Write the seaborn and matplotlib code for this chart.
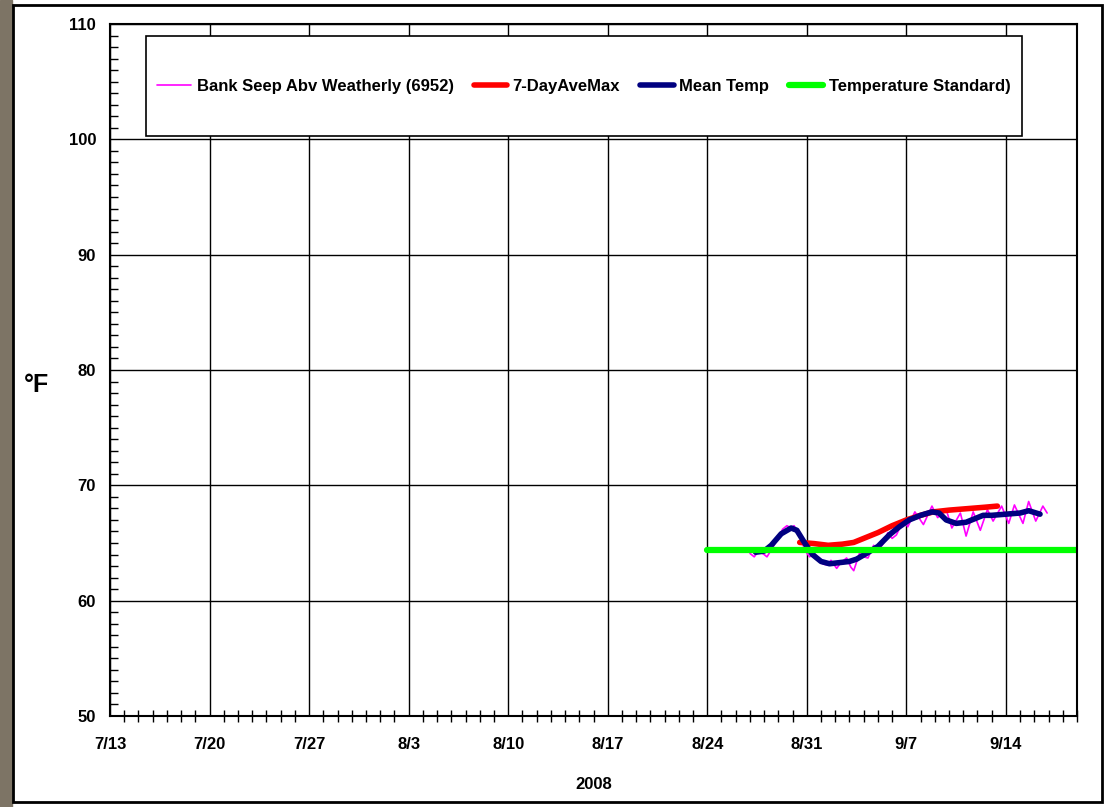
import numpy as np
import pandas as pd
import matplotlib
matplotlib.use('Agg')
import matplotlib.pyplot as plt
import matplotlib.dates as mdates
from matplotlib.patches import Rectangle
from matplotlib.ticker import MultipleLocator
import seaborn as sns

# data: days after 7/13/2008, temperature in F
start = pd.Timestamp('2008-07-13')

raw_day = [45.0, 45.3, 45.6, 46.0, 46.2, 46.6, 47.0, 47.3, 47.6, 47.9, 48.1, 48.5,
           48.9, 49.2, 49.5, 49.8, 50.1, 50.4, 50.7, 51.1, 51.4, 51.8, 52.1, 52.3,
           52.7, 53.0, 53.3, 53.7, 54.0, 54.4, 54.7, 55.0, 55.3, 55.8, 56.1, 56.6,
           57.2, 57.8, 58.2, 58.8, 59.2, 59.8, 60.2, 60.7, 61.2, 61.7, 62.1, 62.7,
           63.2, 63.6, 64.2, 64.6, 65.1, 65.6, 65.9]
raw_temp = [64.1, 63.8, 64.3, 64.0, 63.8, 64.6, 65.5, 66.2, 66.5, 66.3, 66.5, 65.6,
            64.3, 63.8, 64.2, 63.6, 63.2, 63.1, 63.5, 62.8, 63.3, 63.7, 62.9, 62.6,
            64.1, 63.8, 63.7, 64.8, 64.3, 65.0, 65.9, 65.4, 65.7, 67.0, 66.4, 67.7,
            66.6, 68.2, 67.2, 67.9, 66.3, 67.6, 65.6, 67.7, 66.1, 67.9, 66.9, 68.2,
            66.7, 68.3, 66.7, 68.6, 66.9, 68.2, 67.6]

max7_day = [48.5, 49.5, 50.5, 51.5, 52.3, 53.0, 54.0, 55.0, 56.0, 57.0, 57.9,
            59.0, 60.5, 61.5, 62.4]
max7_temp = [65.05, 64.95, 64.8, 64.9, 65.05, 65.4, 65.9, 66.5, 67.0, 67.4, 67.7,
             67.85, 68.0, 68.1, 68.2]

mean_day = [45.4, 46.0, 46.5, 47.2, 47.9, 48.3, 48.8, 49.4, 50.0, 50.6, 51.3, 52.0,
            52.5, 53.2, 54.0, 54.8, 55.5, 56.2, 57.0, 57.8, 58.3, 58.8, 59.5, 60.2,
            60.8, 61.4, 62.0, 63.0, 64.0, 64.6, 65.4]
mean_temp = [64.2, 64.3, 64.8, 65.8, 66.3, 66.1, 65.1, 64.0, 63.4, 63.2, 63.3, 63.4,
             63.6, 64.1, 64.7, 65.7, 66.4, 67.0, 67.4, 67.7, 67.6, 67.0, 66.7, 66.8,
             67.1, 67.4, 67.4, 67.5, 67.6, 67.8, 67.5]

std_day = [42, 68]
std_temp = [64.4, 64.4]

labels = ['Bank Seep Abv Weatherly (6952)', '7-DayAveMax', 'Mean Temp',
          'Temperature Standard)']
tick_dates = ['7/13', '7/20', '7/27', '8/3', '8/10', '8/17', '8/24', '8/31', '9/7', '9/14']


def to_dates(days):
    return start + pd.to_timedelta(days, unit='D')


sns.set_style('white')
plt.rcParams['font.family'] = ['Liberation Sans', 'DejaVu Sans']
plt.rcParams['font.weight'] = 'bold'
plt.rcParams['text.color'] = 'black'
plt.rcParams['axes.labelcolor'] = 'black'
plt.rcParams['xtick.color'] = 'black'
plt.rcParams['ytick.color'] = 'black'

fig = plt.figure(figsize=(11.1, 8.07), dpi=100)
ax = fig.add_axes([0.0991, 0.11276, 0.87117, 0.8575])

sns.lineplot(x=to_dates(raw_day), y=raw_temp, color='#FF00FF', lw=1.2, ax=ax)
sns.lineplot(x=to_dates(max7_day), y=max7_temp, color='#FF0000', lw=4, ax=ax,
             solid_joinstyle='round')
sns.lineplot(x=to_dates(mean_day), y=mean_temp, color='#000080', lw=4, ax=ax,
             solid_joinstyle='round')
sns.lineplot(x=to_dates(std_day), y=std_temp, color='#00FF00', lw=4.5, ax=ax)

ax.set_xlim(start, start + pd.Timedelta(days=68))
ax.set_ylim(50, 110)

ax.set_xticks(to_dates(np.arange(0, 70, 7)))
ax.set_xticklabels(tick_dates)
ax.xaxis.set_minor_locator(mdates.DayLocator())
ax.yaxis.set_major_locator(MultipleLocator(10))
ax.yaxis.set_minor_locator(MultipleLocator(1))

ax.grid(True, which='major', color='black', lw=1.0)
ax.tick_params(axis='both', which='major', direction='inout', length=10, width=1,
               labelsize=12, color='black', labelcolor='black')
ax.tick_params(axis='x', which='major', pad=10)
ax.tick_params(axis='y', which='major', pad=5)
ax.tick_params(axis='x', which='minor', direction='inout', length=8, width=1,
               bottom=True, color='black')
ax.tick_params(axis='y', which='minor', direction='in', length=6, width=1,
               left=True, color='black')
for s in ax.spines.values():
    s.set_color('black')
    s.set_linewidth(1.5)

ax.set_ylabel('°F', rotation=0, fontsize=18, fontweight='bold', va='center', ha='center')
ax.yaxis.set_label_coords(-0.0755, 0.478)
ax.set_xlabel('2008', fontsize=12, fontweight='bold', va='center')
ax.xaxis.set_label_coords(0.5, -0.0997)

# legend box drawn separately so it can be tall with small side padding
ax.add_patch(Rectangle((0.037, 0.838), 0.906, 0.145, transform=ax.transAxes,
                       facecolor='white', edgecolor='black', lw=1.2, zorder=5))
leg = ax.legend(ax.get_lines()[:4], labels, loc='center', bbox_to_anchor=(0.49, 0.910),
                ncol=4, frameon=False, fontsize=12, handlelength=2.0,
                handletextpad=0.35, columnspacing=1.2, borderpad=0)
leg.set_zorder(6)
for t in leg.get_texts():
    t.set_fontweight('bold')
    t.set_color('black')

# outer frame and left edge strip of the screenshot
fig.patches.append(Rectangle((0, 0), 12 / 1110, 1, transform=fig.transFigure,
                             color='#7d7465', zorder=0))
fig.patches.append(Rectangle((13 / 1110, 5 / 807), 1089 / 1110, 797 / 807,
                             transform=fig.transFigure, fill=False, lw=2, ec='black'))

fig.savefig('out.png', dpi=100)
